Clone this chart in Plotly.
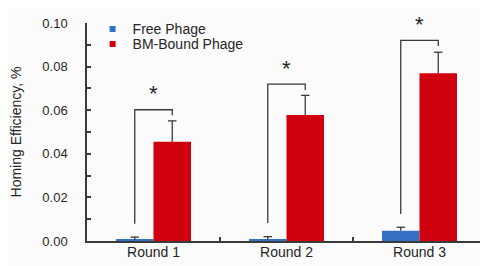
import plotly.graph_objects as go

rounds = ["Round 1", "Round 2", "Round 3"]
free_vals = [0.0005, 0.0005, 0.0047]
free_err = [0.0013, 0.0015, 0.0016]
bound_vals = [0.0455, 0.0578, 0.0770]
bound_err = [0.0096, 0.0090, 0.0096]
bracket_top = [0.0602, 0.0720, 0.0920]
bracket_left_end = [0.0079, 0.0083, 0.0124]
bracket_right_end = [0.0577, 0.0693, 0.0894]
y_ticks = [0.00, 0.02, 0.04, 0.06, 0.08, 0.10]
y_tick_labels = ["0.00", "0.02", "0.04", "0.06", "0.08", "0.10"]

BLUE = "#3572c6"
RED = "#d0000f"
AX = "#3a3a3a"
TXT = "#262626"
FONT = "Liberation Sans, Arial, sans-serif"
OFF = 0.141
xs = list(range(len(rounds)))

fig = go.Figure()
for vals, errs, col, nm in [(free_vals, free_err, BLUE, "Free Phage"),
                            (bound_vals, bound_err, RED, "BM-Bound Phage")]:
    fig.add_trace(go.Bar(x=xs, y=vals, marker=dict(color=col, line=dict(width=0)),
                         error_y=dict(type="data", array=errs, arrayminus=[0] * 3, symmetric=False,
                                      color=AX, thickness=1.3, width=0),
                         showlegend=False, name=nm))

# error-bar caps at the top end only
for vals, errs, sgn in [(free_vals, free_err, -1), (bound_vals, bound_err, 1)]:
    fig.add_trace(go.Scatter(
        x=[i + sgn * OFF for i in xs], y=[v + e for v, e in zip(vals, errs)],
        mode="markers", marker=dict(symbol="line-ew-open", size=6, color=AX,
                                    line=dict(color=AX, width=1.3)),
        showlegend=False, hoverinfo="skip"))

for i in xs:
    fig.add_trace(go.Scatter(
        x=[i - OFF, i - OFF, i + OFF, i + OFF],
        y=[bracket_left_end[i], bracket_top[i], bracket_top[i], bracket_right_end[i]],
        mode="lines", line=dict(color=AX, width=1.3), showlegend=False, hoverinfo="skip"))
    fig.add_annotation(x=i, y=bracket_top[i], text="*", showarrow=False, yanchor="middle",
                       yshift=16, font=dict(size=22, color=TXT, family=FONT))

fig.add_trace(go.Scatter(x=[None], y=[None], mode="markers", name="Free Phage",
                         marker=dict(symbol="square", size=6, color=BLUE), legend="legend"))
fig.add_trace(go.Scatter(x=[None], y=[None], mode="markers", name="BM-Bound Phage",
                         marker=dict(symbol="square", size=6, color=RED), legend="legend2"))

legend_common = dict(font=dict(size=14, color=TXT, family=FONT), bgcolor="rgba(0,0,0,0)",
                     borderwidth=0, xanchor="left", yanchor="middle", x=0.014)
fig.update_layout(
    width=488, height=266,
    margin=dict(l=79, r=10, t=15, b=33, autoexpand=False),
    paper_bgcolor="#fbfbfb", plot_bgcolor="#fbfbfb",
    barmode="group", bargap=0.436, bargroupgap=0,
    font=dict(family=FONT, color=TXT, size=14),
    legend=dict(**legend_common, y=1 - 6.3 / 218),
    legend2=dict(**legend_common, y=1 - 21.3 / 218),
    xaxis=dict(range=[-0.5, 2.5], tickvals=xs, ticktext=rounds, ticks="", automargin=False,
               showline=True, linecolor=AX, linewidth=1.5, showgrid=False, zeroline=False,
               tickfont=dict(size=14, color=TXT), ticklabelstandoff=-3,
               minor=dict(tickvals=[0.5, 1.5, 2.5], ticks="inside", ticklen=4,
                          tickcolor=AX, tickwidth=1.5, showgrid=False)),
    yaxis=dict(range=[0, 0.10], tickvals=y_ticks, ticktext=y_tick_labels, ticks="inside",
               automargin=False,
               ticklen=4, tickwidth=1.5, tickcolor=AX, showline=True, linecolor=AX,
               linewidth=1.5, showgrid=False, zeroline=False, tickfont=dict(size=13, color=TXT),
               ticklabelstandoff=15,
               minor=dict(dtick=0.01, tick0=0, ticks="inside", ticklen=4, tickcolor=AX,
                          tickwidth=1.5, showgrid=False),
               title=dict(text="Homing Efficiency, %", font=dict(size=14, color=TXT),
                          standoff=22)),
)
fig.write_html("out.html")
